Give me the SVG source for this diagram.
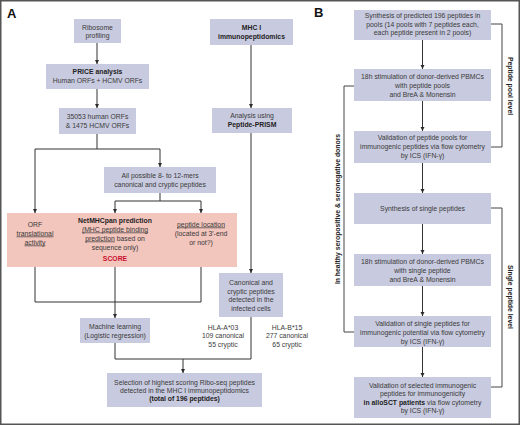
<svg xmlns="http://www.w3.org/2000/svg" width="520" height="426" viewBox="0 0 520 426">
<defs>
<marker id="ah" viewBox="0 0 6 6" refX="6" refY="3" markerWidth="4.5" markerHeight="4.5" markerUnits="userSpaceOnUse" orient="auto"><path d="M0,0 L6,3 L0,6 z" fill="#2b2b2b"/></marker>
<style>
text{font-family:"Liberation Sans",Arial,sans-serif;font-size:6.85px;fill:#3a3a3a;text-anchor:middle}
.b{font-weight:bold;fill:#222}
.u{text-decoration:underline}
.box{fill:#c8cadf}
.pink{fill:#f2c5bd}
.ln{fill:none;stroke:#333;stroke-width:1}
.ar{fill:none;stroke:#333;stroke-width:1;marker-end:url(#ah)}
.br{fill:none;stroke:#444;stroke-width:1}
.lbl{font-size:13px;font-weight:bold;fill:#111;text-anchor:start}
.red{fill:#c8102e;font-weight:bold}
</style>
</defs>
<rect x="0.75" y="0.75" width="518.5" height="423.5" fill="#fff" stroke="#555" stroke-width="1.5"/>
<text class="lbl" x="7" y="18">A</text>
<text class="lbl" x="314" y="17">B</text>

<g id="connectors">
<line class="ar" x1="97" y1="43" x2="97" y2="64"/>
<line class="ar" x1="97" y1="89" x2="97" y2="108"/>
<polyline class="ln" points="97,134 97,149"/>
<polyline class="ar" points="35,149 35,213"/>
<polyline class="ln" points="35,149 160,149"/>
<polyline class="ar" points="160,149 160,167"/>
<polyline class="ln" points="160,193 160,201"/>
<polyline class="ln" points="115,201 201,201"/>
<polyline class="ar" points="115,201 115,213"/>
<polyline class="ar" points="201,201 201,213"/>
<polyline class="ln" points="35,267 35,302 201,302 201,267"/>
<polyline class="ar" points="115,267 115,318"/>
<polyline class="ln" points="115,343 115,359 251,359 251,317"/>
<polyline class="ar" points="183,359 183,373"/>
<line class="ar" x1="251" y1="45" x2="251" y2="108"/>
<line class="ar" x1="251" y1="133" x2="251" y2="273"/>
<line class="ar" x1="422.5" y1="40" x2="422.5" y2="69"/>
<line class="ar" x1="422.5" y1="101" x2="422.5" y2="131"/>
<line class="ar" x1="422.5" y1="163" x2="422.5" y2="193"/>
<line class="ar" x1="422.5" y1="224" x2="422.5" y2="254"/>
<line class="ar" x1="422.5" y1="286" x2="422.5" y2="316"/>
<line class="ar" x1="422.5" y1="347" x2="422.5" y2="377"/>
<polyline class="br" points="354,86 344,86 344,332 354,332"/>
<polyline class="br" points="491,24 502,24 502,147 491,147"/>
<polyline class="br" points="491,208 502,208 502,387 491,387"/>
</g>

<g id="ribosome"><rect class="box" x="74" y="19" width="47" height="24"/><text x="97.5" y="29.5">Ribosome</text><text x="97.5" y="37.5">profiling</text></g>
<g id="price"><rect class="box" x="46" y="64" width="103" height="25"/><text class="b" x="97.5" y="74">PRICE analysis</text><text x="97.5" y="83">Human ORFs + HCMV ORFs</text></g>
<g id="orfs"><rect class="box" x="59" y="108" width="77" height="26"/><text x="97.5" y="119">35053 human ORFs</text><text x="97.5" y="128">&amp; 1475 HCMV ORFs</text></g>
<g id="mhc"><rect class="box" x="210" y="19" width="83" height="26"/><text class="b" x="251.5" y="30">MHC I</text><text class="b" x="251.5" y="39">immunopeptidomics</text></g>
<g id="prism"><rect class="box" x="212" y="108" width="80" height="25"/><text x="252" y="117.5">Analysis using</text><text class="b" x="252" y="126.5">Peptide-PRISM</text></g>
<g id="allpossible"><rect class="box" x="104" y="167" width="112" height="26"/><text x="160" y="178">All possible 8- to 12-mers</text><text x="160" y="186.5">canonical and cryptic peptides</text></g>
<g id="score"><rect class="pink" x="7" y="213" width="230" height="54"/>
<text x="35" y="226.5">ORF</text><text class="u" x="35" y="235.5">translational</text><text class="u" x="35" y="244.5">activity</text>
<text class="b" x="115" y="222.5">NetMHCpan prediction</text><text class="u" x="115" y="231.5">(MHC peptide binding</text><text x="115" y="240.5"><tspan class="u">prediction</tspan> based on</text><text x="115" y="249.5">sequence only)</text>
<text class="red" x="115" y="261">SCORE</text>
<text class="u" x="201" y="226.5">peptide location</text><text x="201" y="235.5">(located at 3′-end</text><text x="201" y="244.5">or not?)</text></g>
<g id="ml"><rect class="box" x="80" y="318" width="70" height="25"/><text x="115" y="329">Machine learning</text><text x="115" y="337.5">(Logistic regression)</text></g>
<g id="canonical"><rect class="box" x="219" y="273" width="64" height="44"/><text x="251" y="285">Canonical and</text><text x="251" y="293.5">cryptic peptides</text><text x="251" y="302">detected in the</text><text x="251" y="310.5">infected cells</text></g>
<g id="hla"><text x="223" y="329.5">HLA-A*03</text><text x="223" y="338">109 canonical</text><text x="223" y="346.5">55 cryptic</text>
<text x="287" y="329.5">HLA-B*15</text><text x="287" y="338">277 canonical</text><text x="287" y="346.5">65 cryptic</text></g>
<g id="selection"><rect class="box" x="107" y="373" width="155" height="34"/><text x="184.5" y="384.5">Selection of highest scoring Ribo-seq peptides</text><text x="184.5" y="392.5">detected in the MHC I immunopeptidomics</text><text class="b" x="184.5" y="401">(total of 196 peptides)</text></g>

<g id="b1"><rect class="box" x="354" y="10" width="137" height="30"/><text x="422.5" y="18">Synthesis of predicted 196 peptides in</text><text x="422.5" y="26.5">pools (14 pools with 7 peptides each,</text><text x="422.5" y="35">each peptide present in 2 pools)</text></g>
<g id="b2"><rect class="box" x="354" y="69" width="137" height="32"/><text x="422.5" y="78.5">18h stimulation of donor-derived PBMCs</text><text x="422.5" y="87.5">with peptide pools</text><text x="422.5" y="96.5">and BreA &amp; Monensin</text></g>
<g id="b3"><rect class="box" x="354" y="131" width="137" height="32"/><text x="422.5" y="140">Validation of peptide pools for</text><text x="422.5" y="149">immunogenic peptides via flow cytometry</text><text x="422.5" y="158">by ICS (IFN-γ)</text></g>
<g id="b4"><rect class="box" x="354" y="193" width="137" height="31"/><text x="422.5" y="211">Synthesis of single peptides</text></g>
<g id="b5"><rect class="box" x="354" y="254" width="137" height="32"/><text x="422.5" y="263.5">18h stimulation of donor-derived PBMCs</text><text x="422.5" y="272.5">with single peptide</text><text x="422.5" y="281.5">and BreA &amp; Monensin</text></g>
<g id="b6"><rect class="box" x="354" y="316" width="137" height="31"/><text x="422.5" y="325.5">Validation of single peptides for</text><text x="422.5" y="334.5">immunogenic potential via flow cytometry</text><text x="422.5" y="343.5">by ICS (IFN-γ)</text></g>
<g id="b7"><rect class="box" x="354" y="377" width="137" height="41"/><text x="422.5" y="388">Validation of selected immunogenic</text><text x="422.5" y="396">peptides for immunogenicity</text><text x="422.5" y="404.5"><tspan class="b">in alloSCT patients</tspan> via flow cytometry</text><text x="422.5" y="413">by ICS (IFN-γ)</text></g>

<g id="bracket-labels">
<text class="b" transform="translate(339.5,209) rotate(-90)">In healthy seropositive &amp; seronegative donors</text>
<text class="b" transform="translate(507.5,86) rotate(90)">Peptide pool level</text>
<text class="b" transform="translate(507.5,297) rotate(90)">Single peptide level</text>
</g>
</svg>
